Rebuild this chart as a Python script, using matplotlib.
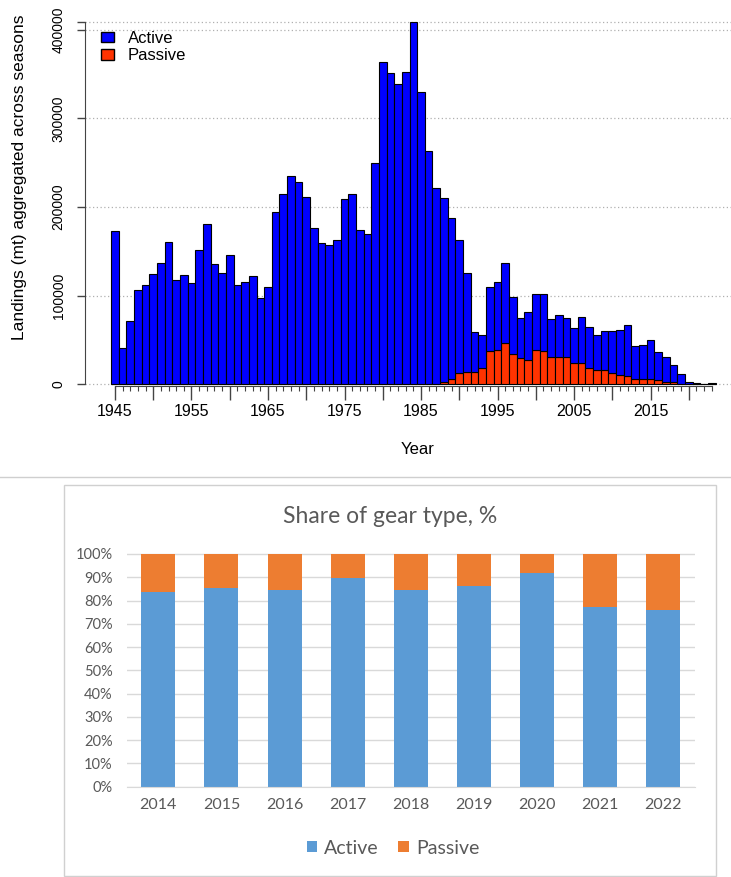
import matplotlib.pyplot as plt
import numpy as np
from matplotlib.patches import Patch, Rectangle
from matplotlib.lines import Line2D

# Landings by gear type, 1945-2023 (mt)
years = np.arange(1945, 2024)
active = [
    173000, 40600, 71400, 106400, 112000, 124100, 137200, 160500, 117700, 123300,
    113900, 151800, 180500, 135700, 125600, 145500, 111700, 115100, 122500, 97700,
    109400, 194000, 214300, 235000, 228500, 211300, 176300, 159000, 157100, 162400,
    209400, 214700, 174100, 169600, 249300, 363200, 351200, 338800, 352300, 408300,
    329700, 263200, 221300, 207600, 181600, 150600, 111500, 44500, 37200, 72100,
    76000, 89500, 65000, 45100, 53400, 62800, 64300, 43500, 47300, 43600,
    40200, 52600, 45500, 38800, 43300, 46700, 51100, 57600, 36500, 38300,
    43200, 32300, 28200, 19500, 10900, 2000, 1000, 700, 1300,
]
passive = [0] * 42 + [
    500, 2900, 6000, 12400, 14300, 14300, 18400, 37600,
    39100, 47000, 33800, 29300, 27800, 39100, 37200, 30500, 30500, 31200,
    23700, 23700, 18800, 16500, 16500, 13100, 10500, 9000, 6400, 6400,
    6400, 4500, 2300, 2300, 700, 300, 200, 200, 200,
]

# Share of gear type, %
share_years = ['2014', '2015', '2016', '2017', '2018', '2019', '2020', '2021', '2022']
share_active = [83.6, 85.5, 84.7, 89.6, 84.4, 86.2, 91.7, 77.2, 76.0]
share_passive = [16.4, 14.5, 15.3, 10.4, 15.6, 13.8, 8.3, 22.8, 24.0]

W, H = 731, 877
fig = plt.figure(figsize=(W / 100, H / 100), dpi=100)


def px_box(l, t, r, b):
    return [l / W, 1 - b / H, (r - l) / W, (b - t) / H]


# ---- top chart (R style) ----
rfont = 'Liberation Sans'
ax = fig.add_axes(px_box(85, 10, 731, 386))
active = np.array(active)
passive = np.array(passive)
total_max = (active + passive).max()

ax.bar(years, passive, width=1, color='#ff3300', edgecolor='black', lw=0.8, zorder=2)
ax.bar(years, active, bottom=passive, width=1, color='#0000ff', edgecolor='black', lw=0.8, zorder=2)

ax.set_xlim(1941.08, 2025.52)
ax.set_ylim(-1918, 422240)

for s in ['top', 'right']:
    ax.spines[s].set_visible(False)
ax.spines['left'].set_bounds(0, total_max)
ax.spines['bottom'].set_bounds(1945, 2023)
for s in ['left', 'bottom']:
    ax.spines[s].set_color('#444444')

major = np.arange(1945, 2024, 5)
ax.set_xticks(major)
ax.set_xticklabels([str(y) if (y - 1945) % 10 == 0 else '' for y in major],
                   fontsize=11.5, family=rfont)
ax.set_xticks(years, minor=True)
ax.tick_params(axis='x', which='major', length=10, width=1, pad=3, color='#444444')
ax.tick_params(axis='x', which='minor', length=3.6, width=0.8, color='#444444')

yt = [0, 100000, 200000, 300000, 400000, total_max]
ax.set_yticks(yt)
ax.set_yticklabels(['0', '100000', '200000', '300000', '400000', ''],
                   rotation=90, va='center', fontsize=10, family=rfont)
ax.tick_params(axis='y', length=6, width=1, pad=8, color='#444444')

for v in yt:
    ax.axhline(v, color='#b0b0b0', ls=(0, (1, 2)), lw=0.9, zorder=1)

handles = [Patch(fc='#0000ff', ec='black'), Patch(fc='#ff3300', ec='black')]
ax.legend(handles, ['Active', 'Passive'], loc='upper left',
          bbox_to_anchor=(101 / W, 1 - 31 / H), bbox_transform=fig.transFigure,
          frameon=False, prop={'family': rfont, 'size': 12},
          handlelength=0.8, handleheight=0.6, handletextpad=0.8,
          labelspacing=0.15, borderaxespad=0, borderpad=0)

fig.text(20 / W, 1 - 177 / H, 'Landings (mt) aggregated across seasons',
         rotation=90, ha='center', va='center', fontsize=12.5, family=rfont)
fig.text(418 / W, 1 - 449 / H, 'Year', ha='center', va='center', fontsize=12, family=rfont)

# ---- separator and box ----
fig.add_artist(Line2D([0, 1], [1 - 476.7 / H] * 2, color='#cfcfcf', lw=1))
fig.add_artist(Rectangle((64 / W, 1 - 876 / H), 652 / W, 391 / H,
                         fill=False, ec='#d0d0d0', lw=1))

# ---- bottom chart (Excel style) ----
efont = 'Lato'
grey = '#595959'
ax2 = fig.add_axes(px_box(126.7, 553.3, 695, 786.7))
x = np.arange(len(share_years))
ax2.bar(x, share_active, width=0.54, color='#5b9bd5', zorder=2)
ax2.bar(x, share_passive, bottom=share_active, width=0.54, color='#ed7d31', zorder=2)
ax2.set_xlim(-0.5, 8.5)
ax2.set_ylim(0, 100.3)
ax2.set_yticks(range(0, 101, 10))
ax2.set_yticklabels([f'{v}%' for v in range(0, 101, 10)], fontsize=10.5, color=grey, family=efont)
ax2.set_xticks(x)
ax2.set_xticklabels(share_years, fontsize=11.5, color=grey, family=efont)
ax2.tick_params(axis='y', length=0, pad=10)
ax2.tick_params(axis='x', length=0, pad=8)
ax2.yaxis.grid(True, color='#d9d9d9', lw=1)
ax2.set_axisbelow(True)
for s in ['top', 'right', 'left']:
    ax2.spines[s].set_visible(False)
ax2.spines['bottom'].set_color('#d9d9d9')

fig.text(390 / W, 1 - 516.7 / H, 'Share of gear type, %', ha='center', va='center',
         fontsize=16.5, color=grey, family=efont)

h2 = [Patch(fc='#5b9bd5'), Patch(fc='#ed7d31')]
fig.legend(h2, ['Active', 'Passive'], loc='center', bbox_to_anchor=(393 / W, 1 - 848 / H),
           ncol=2, frameon=False, prop={'family': efont, 'size': 14}, labelcolor=grey,
           handlelength=0.55, handleheight=0.55, handletextpad=0.35, columnspacing=1.0)

fig.savefig('out.png', dpi=100)
